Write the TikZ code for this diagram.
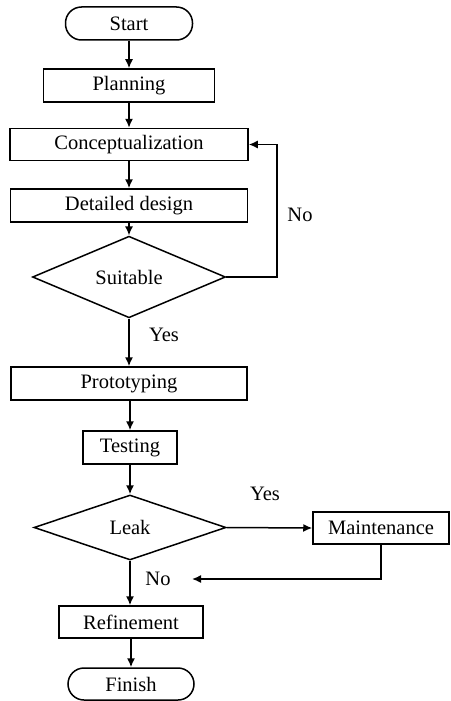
\documentclass[tikz,border=0pt]{standalone}
\usepackage{fontspec}
\setmainfont{Liberation Serif}
\usetikzlibrary{shapes.geometric,arrows.meta}
\begin{document}
\begin{tikzpicture}[x=1pt,y=-1pt,
  every node/.style={font=\fontsize{20.5}{24}\selectfont, inner sep=0pt},
  procbox/.style={draw, line width=1.5pt, rectangle},
  termbox/.style={draw, line width=1.5pt, rectangle, rounded corners=16pt},
  decbox/.style={draw, line width=1.5pt, diamond},
  arr/.style={line width=1.5pt, -{Latex[length=9pt,width=8pt]}},
  lbl/.style={}]
\useasboundingbox (0,0) rectangle (450,701);
\node[termbox, minimum width=127pt, minimum height=33pt] (start) at (129,23.5) {Start};
\node[procbox, minimum width=171pt, minimum height=33pt] (plan) at (129,85.5) {Planning};
\node[procbox, minimum width=238pt, minimum height=32pt] (concept) at (129,144.5) {Conceptualization};
\node[procbox, minimum width=237pt, minimum height=33pt] (detail) at (129,205.5) {Detailed design};
\node[decbox, minimum width=193pt, minimum height=64pt] (suit) at (129,277) {Suitable};
\node[procbox, minimum width=236pt, minimum height=33pt] (proto) at (129,383.5) {Prototyping};
\node[procbox, minimum width=94pt, minimum height=33pt] (test) at (130,447.5) {Testing};
\node[decbox, minimum width=192pt, minimum height=65pt] (leak) at (130,527.5) {Leak};
\node[procbox, minimum width=136pt, minimum height=32pt] (maint) at (381,528) {Maintenance};
\node[procbox, minimum width=144pt, minimum height=32pt] (refine) at (131,622) {Refinement};
\node[termbox, minimum width=126pt, minimum height=32pt] (finish) at (131,684) {Finish};
\coordinate (fb) at (277,144.5);
\coordinate (ret) at (192,579);
\node[lbl] (no1) at (300,215) {No};
\node[lbl] (yes1) at (164,335) {Yes};
\node[lbl] (yes2) at (265,494) {Yes};
\node[lbl] (no2) at (158,579) {No};
\draw[arr] (start) -- (plan);
\draw[arr] (plan) -- (concept);
\draw[arr] (concept) -- (detail);
\draw[arr] (detail) -- (suit);
\draw[arr] (suit.east) -| (fb) -- (concept.east);
\draw[arr] (suit.south) -- (suit.south |- proto.north);
\draw[arr] (proto.south -| test) -- (test.north);
\draw[arr] (test) -- (leak);
\draw[arr] (leak.east) -- (maint.west);
\draw[arr] (maint.south) |- (ret);
\draw[arr] (leak.south) -- (leak.south |- refine.north);
\draw[arr] (refine) -- (finish);
\end{tikzpicture}
\end{document}
